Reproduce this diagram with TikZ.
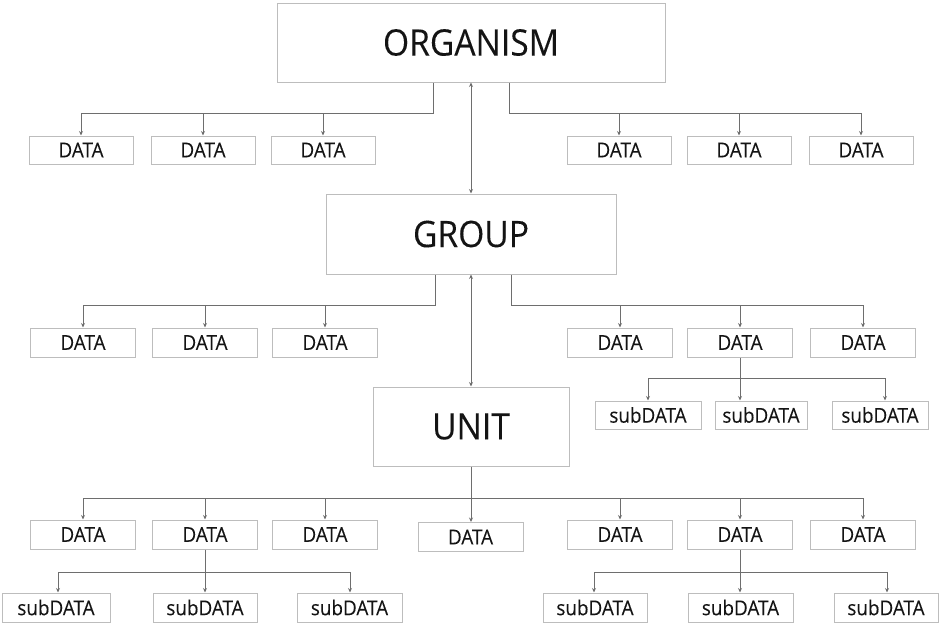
\documentclass[tikz,border=0pt]{standalone}
\usepackage{fontspec}
\setmainfont{Open Sans}[FakeStretch=0.92,FakeBold=0.1]
\usetikzlibrary{arrows.meta}
\definecolor{boxgray}{HTML}{BDBDBD}
\definecolor{linegray}{HTML}{6E6E6E}
\definecolor{txt}{HTML}{141414}
\begin{document}
\begin{tikzpicture}[x=1pt,y=-1pt,
  box/.style={draw=boxgray, line width=1pt, inner sep=0pt, text=txt},
  big/.style={box, font=\fontsize{36.5}{42}\selectfont},
  dbox/.style={box, minimum width=105pt, minimum height=29pt, font=\fontsize{20.5}{24}\selectfont},
  conn/.style={draw=linegray, line width=0.9pt},
  arr/.style={conn, -{Stealth[length=4.5pt,width=4pt]}},
  darr/.style={conn, {Stealth[length=4.5pt,width=4pt]}-{Stealth[length=4.5pt,width=4pt]}}]
\useasboundingbox (0,0) rectangle (939,624);

% main boxes
\node[big, minimum width=388pt, minimum height=79pt] (org) at (471,42.5) {ORGANISM};
\node[big, minimum width=290pt, minimum height=80pt] (grp) at (471,234) {GROUP};
\node[big, minimum width=196pt, minimum height=79pt] (unit) at (471,426.5) {UNIT};

% row 1
\foreach \n/\x in {a1/81,a2/203,a3/323,a4/619,a5/739,a6/861}
  \node[dbox, minimum width=104pt, minimum height=28pt] (\n) at (\x,150) {DATA};
% row 2
\foreach \n/\x in {c1/83,c2/205,c3/325,c4/620,c5/740,c6/863}
  \node[dbox] (\n) at (\x,342.5) {DATA};
% row 2 sub
\node[dbox, minimum width=106pt, minimum height=28pt] (s1) at (648,415) {subDATA};
\node[dbox, minimum width=92pt, minimum height=28pt] (s2) at (761,415) {subDATA};
\node[dbox, minimum width=96pt, minimum height=28pt] (s3) at (880,415) {subDATA};
% row 3
\foreach \n/\x in {e1/83,e2/205,e3/325,e5/620,e6/740,e7/863}
  \node[dbox] (\n) at (\x,534.5) {DATA};
\node[dbox] (e4) at (470.5,537) {DATA};
% bottom subs
\node[dbox, minimum width=108pt] (t1) at (56,607.5) {subDATA};
\node[dbox, minimum width=104pt] (t2) at (205,607.5) {subDATA};
\node[dbox, minimum width=105pt] (t3) at (349.5,607.5) {subDATA};
\node[dbox, minimum width=104pt] (t4) at (595,607.5) {subDATA};
\node[dbox, minimum width=105pt] (t5) at (740.5,607.5) {subDATA};
\node[dbox, minimum width=104pt] (t6) at (886,607.5) {subDATA};

% vertical double arrows
\draw[darr] (org.south) -- (grp.north);
\draw[darr] (grp.south) -- (unit.north);

% row 1 connectors
\coordinate (b1L) at (433,113);
\coordinate (b1R) at (509,113);
\draw[conn] (org.south -| b1L) -- (b1L) -- (b1L -| a1.north);
\draw[conn] (org.south -| b1R) -- (b1R) -- (b1R -| a6.north);
\foreach \n in {a1,a2,a3}
  \draw[arr] (b1L -| \n.north) -- (\n.north);
\foreach \n in {a4,a5,a6}
  \draw[arr] (b1R -| \n.north) -- (\n.north);

% row 2 connectors
\coordinate (b2L) at (435,305);
\coordinate (b2R) at (511,305);
\draw[conn] (grp.south -| b2L) -- (b2L) -- (b2L -| c1.north);
\draw[conn] (grp.south -| b2R) -- (b2R) -- (b2R -| c6.north);
\foreach \n in {c1,c2,c3}
  \draw[arr] (b2L -| \n.north) -- (\n.north);
\foreach \n in {c4,c5,c6}
  \draw[arr] (b2R -| \n.north) -- (\n.north);

% row 2 sub connectors
\coordinate (p1) at (648,378);
\coordinate (p3) at (885,378);
\draw[conn] (p1) -- (p3);
\draw[arr] (c5.south) -- (c5.south |- s2.north);
\draw[arr] (p1) -- (p1 |- s1.north);
\draw[arr] (p3) -- (p3 |- s3.north);

% row 3 connectors
\coordinate (b3) at (471,498);
\draw[conn] (b3 -| e1.north) -- (b3 -| e7.north);
\draw[arr] (unit.south) -- (unit.south |- e4.north);
\foreach \n in {e1,e2,e3,e5,e6,e7}
  \draw[arr] (b3 -| \n.north) -- (\n.north);

% bottom sub connectors
\coordinate (q1) at (58,572);
\coordinate (q3) at (350,572);
\draw[conn] (q1) -- (q3);
\draw[arr] (e2.south) -- (e2.south |- t2.north);
\draw[arr] (q1) -- (q1 |- t1.north);
\draw[arr] (q3) -- (q3 |- t3.north);
\coordinate (r1) at (594,572);
\coordinate (r3) at (887,572);
\draw[conn] (r1) -- (r3);
\draw[arr] (e6.south) -- (e6.south |- t5.north);
\draw[arr] (r1) -- (r1 |- t4.north);
\draw[arr] (r3) -- (r3 |- t6.north);
\end{tikzpicture}
\end{document}
